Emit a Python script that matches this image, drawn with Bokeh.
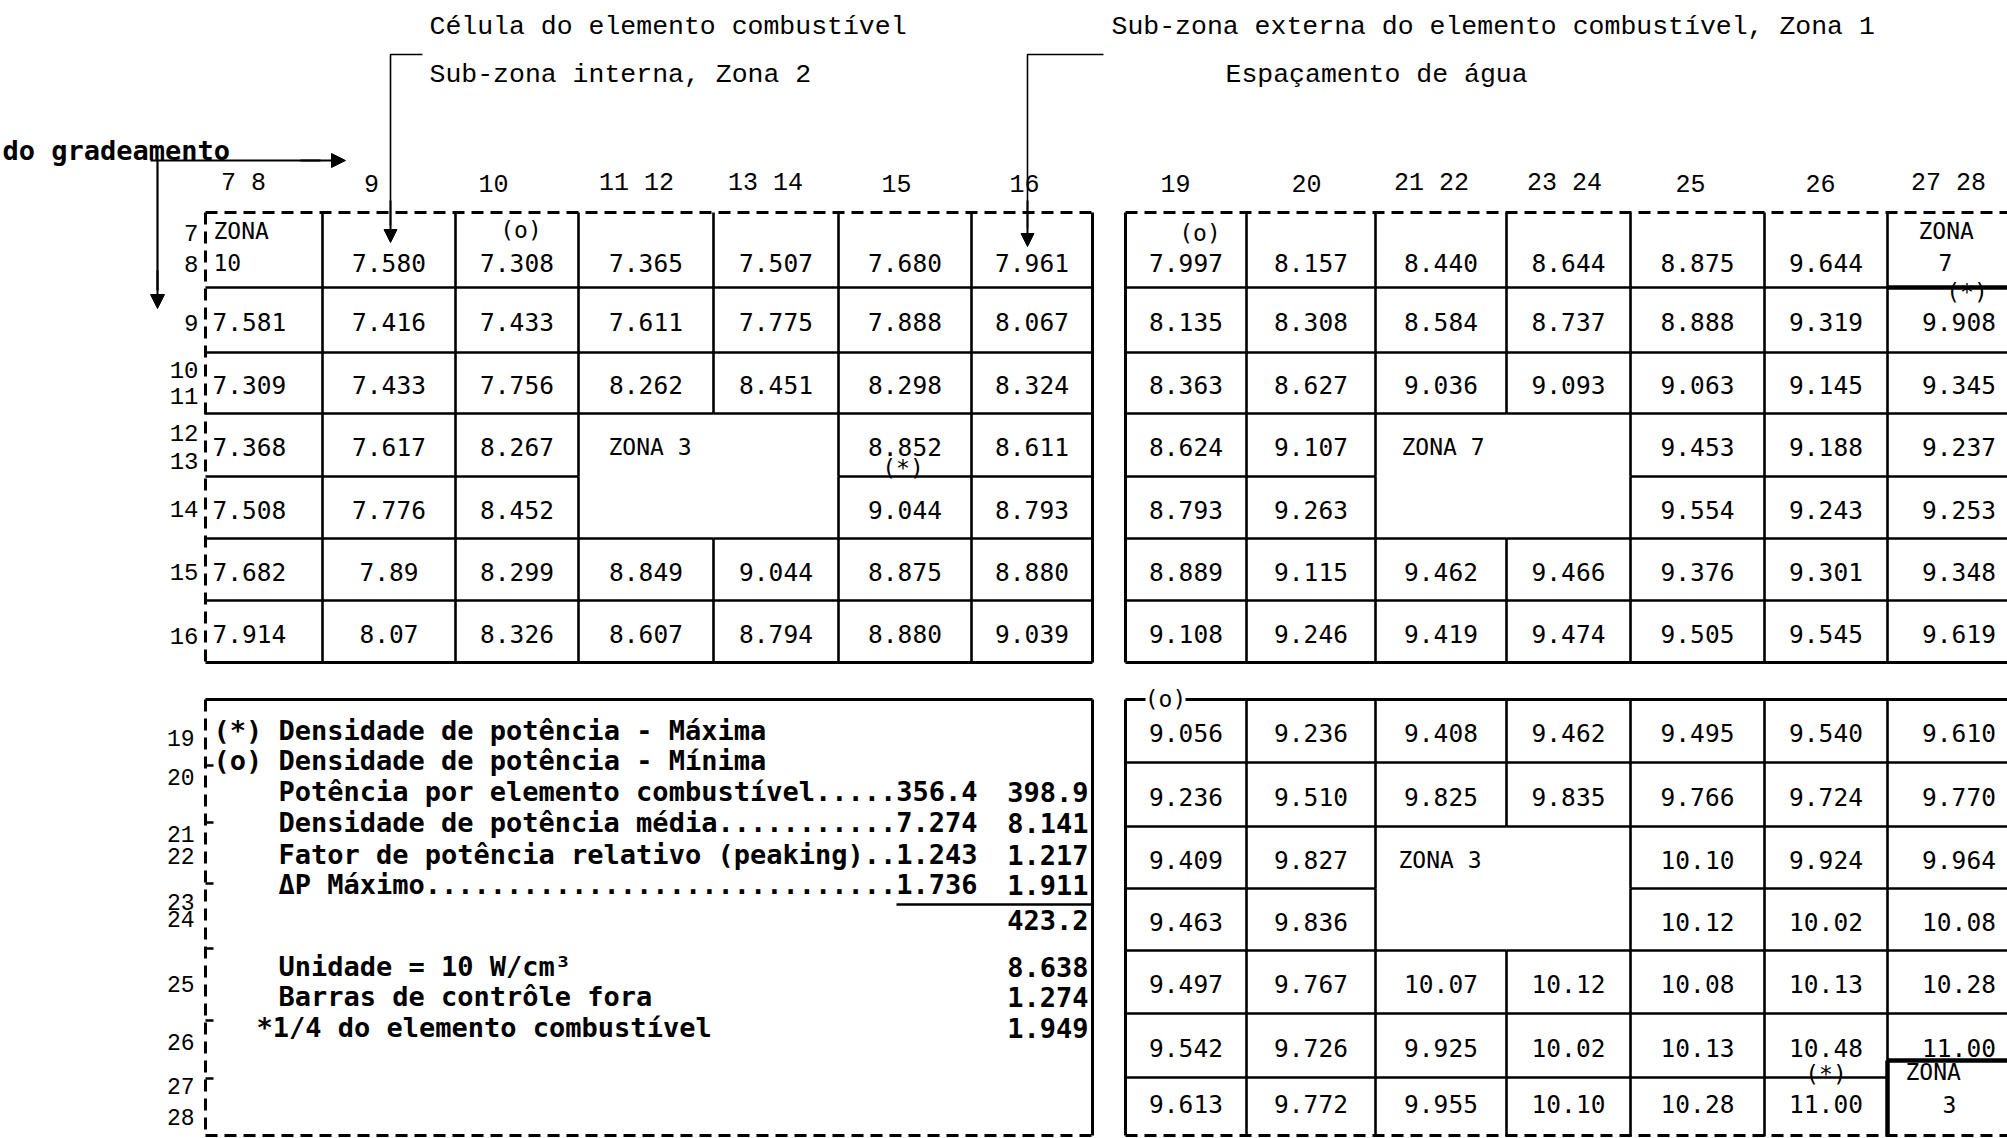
from bokeh.plotting import figure
from bokeh.models import Range1d, ColumnDataSource, Arrow, NormalHead
from bokeh.core.properties import value
from bokeh.embed import file_html
from bokeh.resources import INLINE

# ------------------------------------------------------------------ data
left_col_labels = ["7 8", "9", "10", "11 12", "13 14", "15", "16"]
right_col_labels = ["19", "20", "21 22", "23 24", "25", "26", "27 28"]
top_row_labels = ["7", "8", "9", "10", "11", "12", "13", "14", "15", "16"]
bottom_row_labels = ["19", "20", "21", "22", "23", "24", "25", "26", "27", "28"]

tl_values = [
    [None, "7.580", "7.308", "7.365", "7.507", "7.680", "7.961"],
    ["7.581", "7.416", "7.433", "7.611", "7.775", "7.888", "8.067"],
    ["7.309", "7.433", "7.756", "8.262", "8.451", "8.298", "8.324"],
    ["7.368", "7.617", "8.267", None, None, "8.852", "8.611"],
    ["7.508", "7.776", "8.452", None, None, "9.044", "8.793"],
    ["7.682", "7.89", "8.299", "8.849", "9.044", "8.875", "8.880"],
    ["7.914", "8.07", "8.326", "8.607", "8.794", "8.880", "9.039"],
]
tr_values = [
    ["7.997", "8.157", "8.440", "8.644", "8.875", "9.644", None],
    ["8.135", "8.308", "8.584", "8.737", "8.888", "9.319", "9.908"],
    ["8.363", "8.627", "9.036", "9.093", "9.063", "9.145", "9.345"],
    ["8.624", "9.107", None, None, "9.453", "9.188", "9.237"],
    ["8.793", "9.263", None, None, "9.554", "9.243", "9.253"],
    ["8.889", "9.115", "9.462", "9.466", "9.376", "9.301", "9.348"],
    ["9.108", "9.246", "9.419", "9.474", "9.505", "9.545", "9.619"],
]
br_values = [
    ["9.056", "9.236", "9.408", "9.462", "9.495", "9.540", "9.610"],
    ["9.236", "9.510", "9.825", "9.835", "9.766", "9.724", "9.770"],
    ["9.409", "9.827", None, None, "10.10", "9.924", "9.964"],
    ["9.463", "9.836", None, None, "10.12", "10.02", "10.08"],
    ["9.497", "9.767", "10.07", "10.12", "10.08", "10.13", "10.28"],
    ["9.542", "9.726", "9.925", "10.02", "10.13", "10.48", "11.00"],
    ["9.613", "9.772", "9.955", "10.10", "10.28", "11.00", None],
]

# markers (row, col, text)
tl_marks = [(0, 2, "(o)"), (4, 5, "(*)")]
tr_marks = [(0, 0, "(o)"), (1, 6, "(*)")]
br_marks = [(6, 5, "(*)")]
br_corner_mark = "(o)"

# zones (row, col, nrows, ncols, lines)
tl_zones = [(0, 0, 1, 1, ["ZONA", "10"]), (3, 3, 2, 2, ["ZONA 3"])]
tr_zones = [(0, 6, 1, 1, ["ZONA", "7"]), (3, 2, 2, 2, ["ZONA 7"])]
br_zones = [(2, 2, 2, 2, ["ZONA 3"]), (6, 6, 1, 1, ["ZONA", "3"])]

title_1 = "Célula do elemento combustível"
title_2 = "Sub-zona interna, Zona 2"
title_3 = "Sub-zona externa do elemento combustível, Zona 1"
title_4 = "Espaçamento de água"
grid_label = "do gradeamento"

legend_labels = ["(*) Densidade de potência - Máxima",
                 "(o) Densidade de potência - Mínima"]
summary_labels = ["Potência por elemento combustível",
                  "Densidade de potência média",
                  "Fator de potência relativo (peaking)",
                  "ΔP Máximo"]
summary_col1 = ["356.4", "7.274", "1.243", "1.736"]
summary_col2 = ["398.9", "8.141", "1.217", "1.911"]
summary_total = "423.2"
notes_labels = ["Unidade = 10 W/cm³", "Barras de contrôle fora",
                "*1/4 do elemento combustível"]
notes_values = ["8.638", "1.274", "1.949"]

# ------------------------------------------------------------------ layout
TL_X = [205, 322, 455, 578, 713, 838, 971, 1092]
TR_X = [1125, 1246, 1375, 1506, 1630, 1764, 1887, 2030]
TOP_Y = [212, 287, 352, 413, 476, 538, 600, 662]
BOT_Y = [699, 762, 826, 888, 950, 1013, 1077, 1136]
LEFT_LABEL_X = [243, 371, 493, 636, 765, 896, 1024]
RIGHT_LABEL_X = [1175, 1306, 1431, 1564, 1690, 1820, 1948]
COL_LABEL_Y = 183
TOP_ROW_LABEL_Y = [232, 263, 322, 369, 395, 432, 460, 508, 571, 635]
BOT_ROW_LABEL_Y = [737, 776, 833, 855, 901, 918, 983, 1041, 1085, 1116]
ROW_LABEL_X = 198
# per-mark offsets from the cell's text anchor (dx, dy)
TL_MARK_OFF = [(4, -33), (-2, -42)]
TR_MARK_OFF = [(14, -30), (8, -30)]
BR_MARK_OFF = [(0, -30)]
# zone label offsets from the zone's left edge: first line dx, second line dx
TL_ZONE_OFF = [(8, 8), (30, 0)]
TR_ZONE_OFF = [(31, 51), (26, 0)]
BR_ZONE_OFF = [(23, 0), (18, 55)]

CELL_FONT = value("DejaVu Sans Mono")
LABEL_FONT = value("Liberation Mono")
BOX_FONT = value("DejaVu Sans Mono")
CELL_SIZE = "24.5px"

W, H = 2007, 1138
p = figure(width=W, height=H, x_range=Range1d(0, W), y_range=Range1d(H, 0),
           output_backend="svg", toolbar_location=None, min_border=0,
           x_axis_location=None, y_axis_location=None)
p.grid.visible = False
p.outline_line_color = None
p.background_fill_color = "white"
p.border_fill_color = "white"


def txt(xs, ys, texts, size=CELL_SIZE, font=CELL_FONT, align="center", bold=False):
    src = ColumnDataSource(dict(x=list(xs), y=list(ys), t=list(texts)))
    p.text("x", "y", "t", source=src, text_font=font, text_font_size=size,
           text_align=align, text_baseline="middle", text_color="black",
           text_font_style="bold" if bold else "normal")


def grid(xe, ye, values, zones, zone_off, marks, mark_off, first_row_two_lines,
         left_first_col, skip_h=(), last_row_dy=2):
    nr, nc = len(ye) - 1, len(xe) - 1
    zone_of = {}
    for k, (r0, c0, rn, cn, _) in enumerate(zones):
        for i in range(r0, r0 + rn):
            for j in range(c0, c0 + cn):
                zone_of[(i, j)] = k

    def same(a, b):
        return a in zone_of and b in zone_of and zone_of[a] == zone_of[b]

    x0, y0, x1, y1 = [], [], [], []
    for j in range(1, nc):
        for i in range(nr):
            if not same((i, j - 1), (i, j)):
                x0.append(xe[j]); x1.append(xe[j]); y0.append(ye[i]); y1.append(ye[i + 1])
    for i in range(1, nr):
        for j in range(nc):
            if (i, j) in skip_h:
                continue
            if not same((i - 1, j), (i, j)):
                x0.append(xe[j]); x1.append(xe[j + 1]); y0.append(ye[i]); y1.append(ye[i])
    p.segment(x0, y0, x1, y1, line_color="black", line_width=2.6)

    cx = [(xe[j] + xe[j + 1]) / 2 for j in range(nc)]
    cy = [(ye[i] + ye[i + 1]) / 2 + 2 for i in range(nr)]
    cy[-1] = (ye[-2] + ye[-1]) / 2 + last_row_dy
    if first_row_two_lines:
        cy[0] = ye[0] + 50
    xs, ys, ts = [], [], []
    lx, ly, lt = [], [], []
    for i, row in enumerate(values):
        for j, v in enumerate(row):
            if v is None:
                continue
            if left_first_col and j == 0:
                lx.append(xe[0] + 7); ly.append(cy[i]); lt.append(v)
            else:
                xs.append(cx[j]); ys.append(cy[i]); ts.append(v)
    txt(xs, ys, ts)
    txt(lx, ly, lt, align="left")

    mx, my, mt = [], [], []
    for (i, j, m), (dx, dy) in zip(marks, mark_off):
        mx.append(cx[j] + dx); my.append(cy[i] + dy); mt.append(m)
    txt(mx, my, mt, size="23px")

    zx, zy, zt = [], [], []
    for (r0, c0, rn, cn, lines), (d1, d2) in zip(zones, zone_off):
        if len(lines) == 1:
            zx.append(xe[c0] + d1); zy.append(cy[r0]); zt.append(lines[0])
        else:
            zx.append(xe[c0] + d1); zy.append(cy[r0] - 32); zt.append(lines[0])
            zx.append(xe[c0] + d2); zy.append(cy[r0]); zt.append(lines[1])
    txt(zx, zy, zt, align="left", size="23px")
    return cx, cy


# ---- grids
grid(TL_X, TOP_Y, tl_values, tl_zones, TL_ZONE_OFF, tl_marks, TL_MARK_OFF, True, True)
grid(TR_X, TOP_Y, tr_values, tr_zones, TR_ZONE_OFF, tr_marks, TR_MARK_OFF, True, False)
grid(TR_X, BOT_Y, br_values, br_zones, BR_ZONE_OFF, br_marks, BR_MARK_OFF, False, False,
     skip_h={(6, 6)}, last_row_dy=-3)

# outer borders
solid = dict(line_color="black", line_width=3)
dashed = dict(line_color="black", line_width=3, line_dash="12 7")
BOTTOM = 1135
# top-left grid
p.segment([TL_X[0]], [TOP_Y[0]], [TL_X[-1]], [TOP_Y[0]], **dashed)
p.segment([TL_X[0]], [TOP_Y[0]], [TL_X[0]], [TOP_Y[-1]], **dashed)
p.segment([TL_X[-1], TL_X[0]], [TOP_Y[0], TOP_Y[-1]], [TL_X[-1], TL_X[-1]], [TOP_Y[-1], TOP_Y[-1]], **solid)
# top-right grid
p.segment([TR_X[0]], [TOP_Y[0]], [TR_X[-1]], [TOP_Y[0]], **dashed)
p.segment([TR_X[0], TR_X[0]], [TOP_Y[0], TOP_Y[-1]], [TR_X[0], TR_X[-1]], [TOP_Y[-1], TOP_Y[-1]], **solid)
# bottom-right grid
p.segment([TR_X[0], TR_X[0]], [BOT_Y[0], BOT_Y[0]], [TR_X[-1], TR_X[0]], [BOT_Y[0], BOTTOM], **solid)
p.segment([TR_X[0]], [BOTTOM], [TR_X[-1]], [BOTTOM], **dashed)
# heavy zone boxes
p.segment([TR_X[6]], [TOP_Y[1]], [TR_X[7]], [TOP_Y[1]], line_color="black", line_width=4.5)
p.segment([TR_X[6], TR_X[6]], [1060, 1060], [TR_X[7], TR_X[6]], [1060, BOTTOM],
          line_color="black", line_width=4.5)
# box with legend
p.segment([TL_X[0], TL_X[-1]], [BOT_Y[0], BOT_Y[0]], [TL_X[-1], TL_X[-1]], [BOT_Y[0], BOTTOM], **solid)
p.segment([TL_X[0], TL_X[0]], [BOT_Y[0], BOTTOM], [TL_X[0], TL_X[-1]], [BOTTOM, BOTTOM], **dashed)
tick_y = [765, 822, 883, 948, 1020, 1078]
p.segment([TL_X[0]] * len(tick_y), tick_y, [TL_X[0] + 8] * len(tick_y), tick_y,
          line_color="black", line_width=2.5)

# corner marker (o) over the bottom-right grid's top border
p.rect([1165], [BOT_Y[0]], [40], [22], fill_color="white", line_color=None)
txt([1165], [BOT_Y[0] - 1], [br_corner_mark], size="23px")

# ---- column / row labels
txt(LEFT_LABEL_X, [COL_LABEL_Y] * 7, left_col_labels, size="25px", font=LABEL_FONT)
txt(RIGHT_LABEL_X, [COL_LABEL_Y] * 7, right_col_labels, size="25px", font=LABEL_FONT)
txt([ROW_LABEL_X] * len(top_row_labels), TOP_ROW_LABEL_Y, top_row_labels,
    size="24px", font=LABEL_FONT, align="right")
txt([ROW_LABEL_X - 4] * len(bottom_row_labels), BOT_ROW_LABEL_Y, bottom_row_labels,
    size="23px", font=LABEL_FONT, align="right")

# ---- titles
txt([429, 429, 1111, 1225], [26, 74, 26, 74], [title_1, title_2, title_3, title_4],
    size="26.5px", font=LABEL_FONT, align="left")
txt([2], [150], [grid_label], size="27px", font=BOX_FONT, align="left", bold=True)

# ---- brackets and arrows
p.line([422, 390, 390], [54, 54, 225], line_color="black", line_width=1.6)
p.line([1103, 1027, 1027], [54, 54, 228], line_color="black", line_width=1.6)
p.line([150, 320], [160, 160], line_color="black", line_width=2.2)
p.line([157, 157], [160, 290], line_color="black", line_width=2.2)
for (xs_, ys_, xe_, ye_, sz) in [(390, 200, 390, 242, 13), (1027, 200, 1027, 246, 13),
                                 (300, 160, 345, 160, 14), (157, 270, 157, 308, 14)]:
    p.add_layout(Arrow(end=NormalHead(size=sz, fill_color="black", line_color="black"),
                       x_start=xs_, y_start=ys_, x_end=xe_, y_end=ye_,
                       line_color="black", line_width=2))

# ---- legend box text
LINE_W = 43
box_size = "27px"
txt([213, 213], [730, 760], legend_labels, size=box_size, font=BOX_FONT, align="left", bold=True)
sum_lines = [lab + "." * (LINE_W - len(lab) - len(v)) + v
             for lab, v in zip(summary_labels, summary_col1)]
txt([278] * 4, [791, 822, 854, 884], sum_lines, size=box_size, font=BOX_FONT, align="left", bold=True)
txt([1088] * 5, [791, 822, 854, 884, 919], summary_col2 + [summary_total],
    size=box_size, font=BOX_FONT, align="right", bold=True)
p.segment([896], [904], [1092], [904], line_color="black", line_width=2.5)
txt([278, 278, 256], [966, 996, 1027], notes_labels, size=box_size, font=BOX_FONT,
    align="left", bold=True)
txt([1088] * 3, [966, 996, 1027], notes_values, size=box_size, font=BOX_FONT,
    align="right", bold=True)

open("out.html", "w").write(file_html(p, INLINE))
